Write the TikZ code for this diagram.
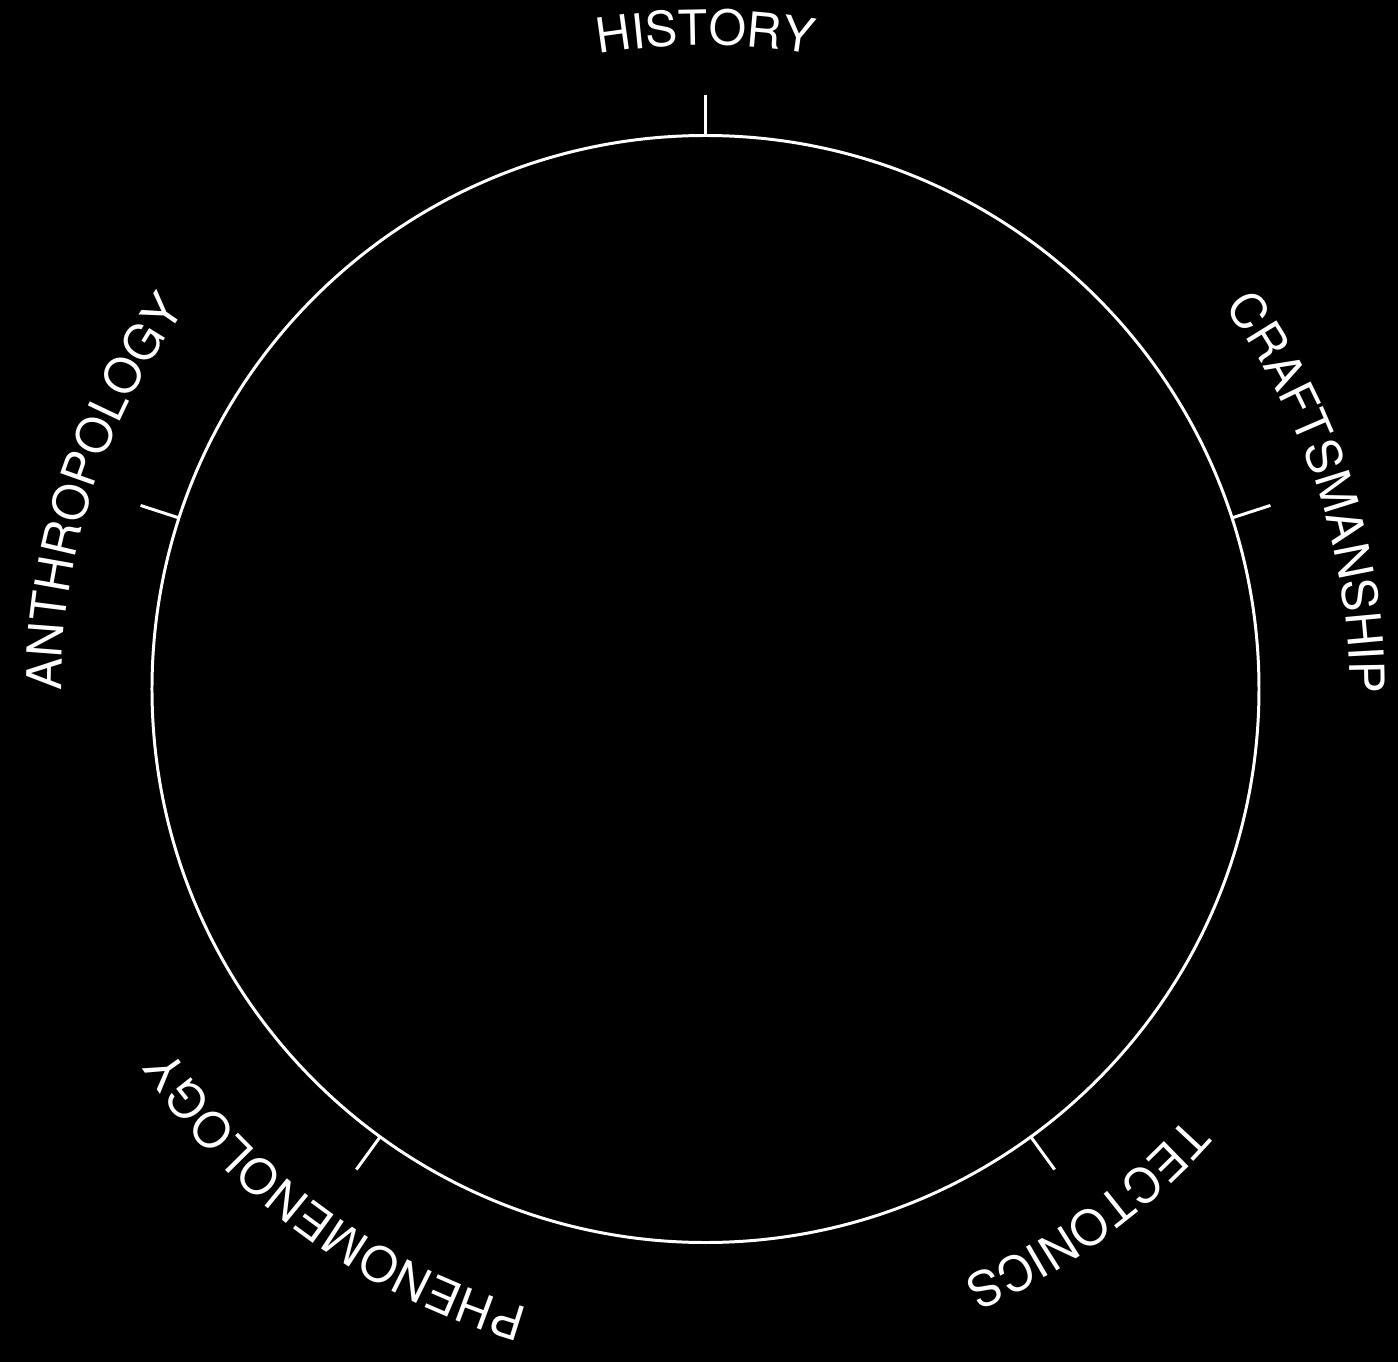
\documentclass[tikz,border=0pt]{standalone}
\usepackage{fontspec}
\setmainfont{TeX Gyre Heros}
\newfontfamily\labelfont[LetterSpace=3]{TeX Gyre Heros}
\usetikzlibrary{decorations.text}
\tikzstyle{ring} = [white, line width=1.7pt]

\begin{document}
\begin{tikzpicture}
    % Background
    \useasboundingbox[fill=black] (-14.11,-13.46) rectangle (13.85,13.78);
    % Circle
    \draw[ring] (0,0) circle (11.07);
    % Ticks and labels
    \foreach \a/\txt in {90/HISTORY,18/CRAFTSMANSHIP,-54/TECTONICS,-126/PHENOMENOLOGY,162/ANTHROPOLOGY} {
        \draw[ring] (\a:11.07) coordinate (tick-in) -- (\a:11.88) coordinate (tick-out);
        \labelfont\fontsize{27.5}{30}\selectfont
        \path[decorate, decoration={text along path, text align=center, text color=white, text/.expanded=\txt}]
            (\a+40:12.88) arc[start angle=\a+40, end angle=\a-40, radius=12.88];
    }
\end{tikzpicture}
\end{document}
